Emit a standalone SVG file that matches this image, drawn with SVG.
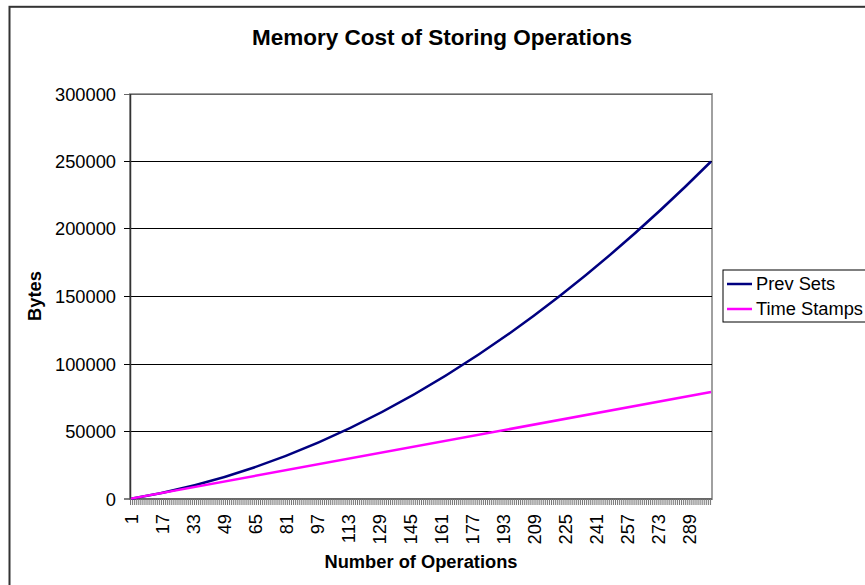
<svg xmlns="http://www.w3.org/2000/svg" width="865" height="585" viewBox="0 0 865 585">
<style>
text{font-family:"Liberation Sans",Arial,sans-serif;fill:#000}
.t{font-size:22.5px;font-weight:bold}
.ax{font-size:18.3px;font-weight:bold}
.yl{font-size:18.3px;text-anchor:end}
.xl{font-size:18.3px;text-anchor:end}
.lg{font-size:18.3px}
.grid{stroke:#000;stroke-width:1}
</style>
<rect x="0" y="0" width="865" height="585" fill="#fff"/>
<rect x="9.5" y="6.8" width="900" height="620" fill="none" stroke="#333" stroke-width="2"/>
<text class="t" x="442" y="45" text-anchor="middle">Memory Cost of Storing Operations</text>
<g id="plot">
<rect x="130" y="94" width="582" height="405" fill="#fff" stroke="#a0a0a0" stroke-width="2"/>
<g class="grid">
<line x1="124" y1="94.5" x2="712" y2="94.5" stroke="#666"/>
<line x1="124" y1="161.5" x2="712" y2="161.5"/>
<line x1="124" y1="228.5" x2="712" y2="228.5"/>
<line x1="124" y1="296.5" x2="712" y2="296.5"/>
<line x1="124" y1="364.5" x2="712" y2="364.5"/>
<line x1="124" y1="431.5" x2="712" y2="431.5"/>
</g>
<line x1="130.5" y1="94" x2="130.5" y2="499" stroke="#333" stroke-width="1.5"/>
<line x1="124" y1="499" x2="712" y2="499" stroke="#555" stroke-width="1.5"/>
<line x1="130" y1="502" x2="712" y2="502" stroke="#777" stroke-width="6" stroke-dasharray="1 0.94"/>
</g>
<g id="yaxis">
<text class="yl" x="116" y="101">300000</text>
<text class="yl" x="116" y="168">250000</text>
<text class="yl" x="116" y="235">200000</text>
<text class="yl" x="116" y="303">150000</text>
<text class="yl" x="116" y="371">100000</text>
<text class="yl" x="116" y="438">50000</text>
<text class="yl" x="116" y="506">0</text>
<text class="ax" transform="translate(41,296) rotate(-90)" text-anchor="middle">Bytes</text>
</g>
<g id="xaxis">
<text class="xl" transform="translate(137.5,514) rotate(-90)">1</text>
<text class="xl" transform="translate(168.5,514) rotate(-90)">17</text>
<text class="xl" transform="translate(199.5,514) rotate(-90)">33</text>
<text class="xl" transform="translate(230.5,514) rotate(-90)">49</text>
<text class="xl" transform="translate(261.6,514) rotate(-90)">65</text>
<text class="xl" transform="translate(292.6,514) rotate(-90)">81</text>
<text class="xl" transform="translate(323.7,514) rotate(-90)">97</text>
<text class="xl" transform="translate(354.7,514) rotate(-90)">113</text>
<text class="xl" transform="translate(385.8,514) rotate(-90)">129</text>
<text class="xl" transform="translate(416.8,514) rotate(-90)">145</text>
<text class="xl" transform="translate(447.8,514) rotate(-90)">161</text>
<text class="xl" transform="translate(478.9,514) rotate(-90)">177</text>
<text class="xl" transform="translate(509.9,514) rotate(-90)">193</text>
<text class="xl" transform="translate(541,514) rotate(-90)">209</text>
<text class="xl" transform="translate(572,514) rotate(-90)">225</text>
<text class="xl" transform="translate(603,514) rotate(-90)">241</text>
<text class="xl" transform="translate(634.1,514) rotate(-90)">257</text>
<text class="xl" transform="translate(665.1,514) rotate(-90)">273</text>
<text class="xl" transform="translate(696.2,514) rotate(-90)">289</text>
<text class="ax" x="421" y="568" text-anchor="middle">Number of Operations</text>
</g>
<g id="series">
<path id="prev-sets" d="M130.97,498.68 Q421,450.8 711.03,161.5" fill="none" stroke="#000080" stroke-width="2.5"/>
<path id="time-stamps" d="M130.97,498.64 L711.03,392.08" fill="none" stroke="#ff00ff" stroke-width="2.5"/>
</g>
<g id="legend">
<rect x="723" y="270" width="150" height="52" fill="#fff" stroke="#000" stroke-width="1"/>
<line x1="727" y1="284" x2="752" y2="284" stroke="#000080" stroke-width="2.5"/>
<line x1="727" y1="309" x2="752" y2="309" stroke="#ff00ff" stroke-width="2.5"/>
<text class="lg" x="756" y="290">Prev Sets</text>
<text class="lg" x="756" y="315">Time Stamps</text>
</g>
</svg>
